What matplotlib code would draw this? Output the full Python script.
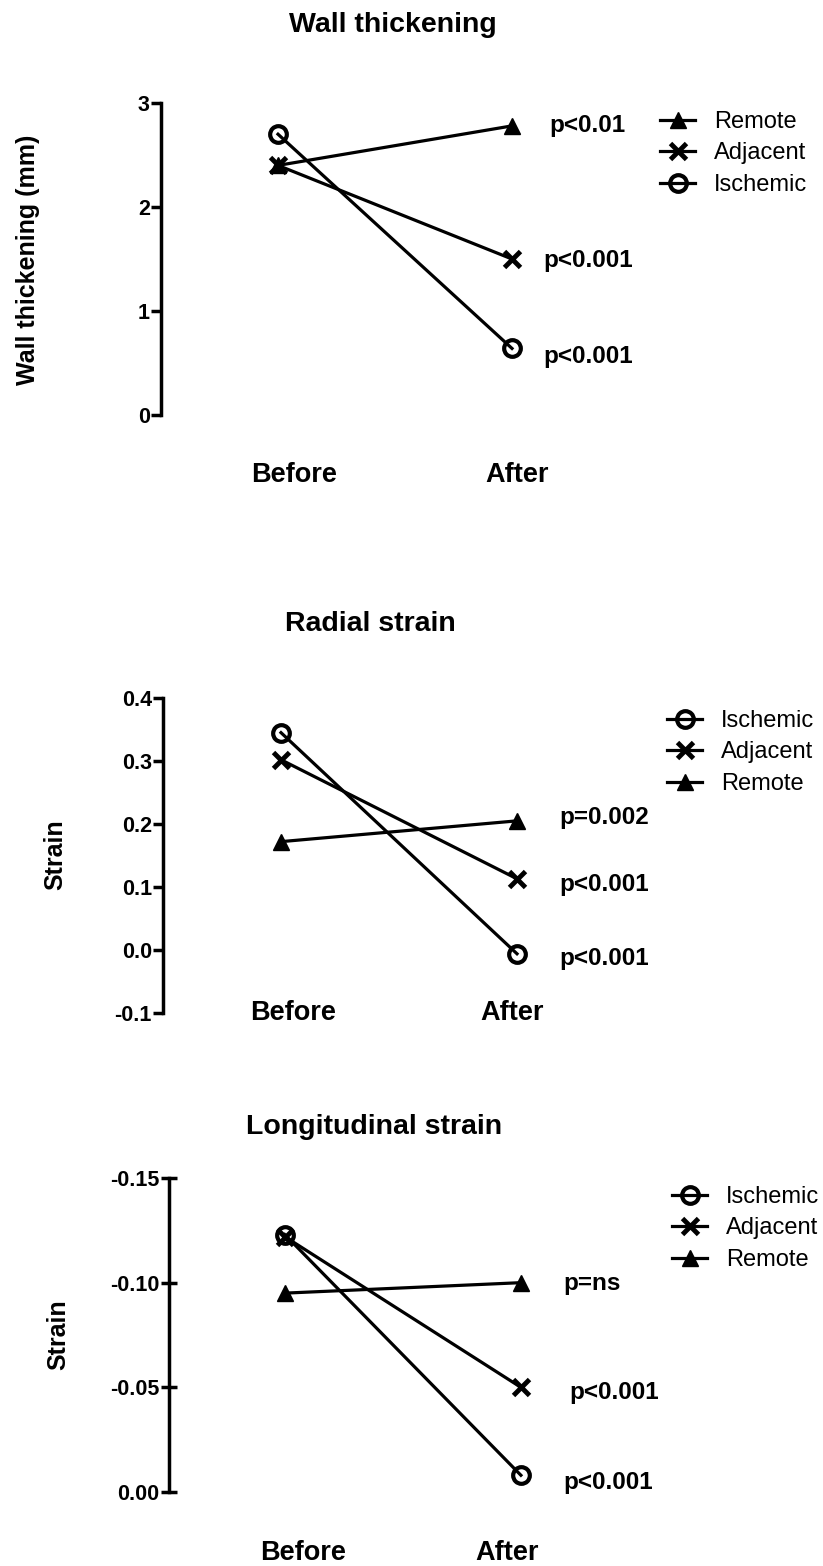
import numpy as np
import matplotlib
matplotlib.use('Agg')
import matplotlib.pyplot as plt

#############################################################################
'''Data read off the figure'''
#############################################################################

groups = ['Before', 'After']

# Wall thickening (mm)
wt_remote = [2.40, 2.78]
wt_adjacent = [2.40, 1.50]
wt_ischemic = [2.70, 0.64]
wt_p = {'Remote': 'p<0.01', 'Adjacent': 'p<0.001', 'Ischemic': 'p<0.001'}

# Radial strain
rs_ischemic = [0.345, -0.006]
rs_adjacent = [0.302, 0.113]
rs_remote = [0.172, 0.205]
rs_p = {'Ischemic': 'p<0.001', 'Adjacent': 'p<0.001', 'Remote': 'p=0.002'}

# Longitudinal strain
ls_ischemic = [-0.123, -0.008]
ls_adjacent = [-0.122, -0.050]
ls_remote = [-0.095, -0.100]
ls_p = {'Ischemic': 'p<0.001', 'Adjacent': 'p<0.001', 'Remote': 'p=ns'}

wt_ticks = [0, 1, 2, 3]
rs_ticks = [-0.1, 0.0, 0.1, 0.2, 0.3, 0.4]
ls_ticks = [0.00, -0.05, -0.10, -0.15]

#############################################################################
'''Styles'''
#############################################################################

W, H = 823, 1566
plt.rcParams['font.family'] = ['Liberation Sans', 'DejaVu Sans']
plt.rcParams['axes.unicode_minus'] = False

styles = {
    'Remote': dict(marker='^', ms=12, mfc='k', mec='k', mew=1),
    'Adjacent': dict(marker='x', ms=12, mec='k', mew=3.5),
    'Ischemic': dict(marker='o', ms=12, mfc='none', mec='k', mew=3),
}

fig = plt.figure(figsize=(W / 100, H / 100), dpi=100)


def px_axes(left, top, width, height):
    return fig.add_axes([left / W, 1 - (top + height) / H, width / W, height / H])


def setup(ax, ticks, fmt, xlim, ylim, tdir='out', tlen=7):
    ax.set_xlim(*xlim)
    ax.set_ylim(*ylim)
    for s in ['top', 'right', 'bottom']:
        ax.spines[s].set_visible(False)
    ax.spines['left'].set_linewidth(2.5)
    ax.set_xticks([])
    ax.set_yticks(ticks)
    ax.set_yticklabels([fmt.format(t) for t in ticks], fontsize=15.5,
                       fontweight='bold')
    ax.tick_params(axis='y', length=tlen, width=2.5, pad=1, direction=tdir)
    ax.patch.set_alpha(0)


def draw(ax, series, plabels, poffs):
    handles = {}
    for name, vals in series:
        h, = ax.plot([0, 1], vals, color='k', lw=2.3, clip_on=False,
                     **styles[name])
        handles[name] = h
        dx, dy = poffs[name]
        ax.annotate(plabels[name], xy=(1, vals[1]), xytext=(dx * 0.72, -dy * 0.72),
                    textcoords='offset points', ha='left', va='center',
                    fontsize=17.5, fontweight='bold', annotation_clip=False)
    return handles


def legend(ax, handles, order, x, y):
    ax.legend([handles[n] for n in order], order, loc='upper left',
              bbox_to_anchor=(x / W, 1 - y / H), bbox_transform=fig.transFigure,
              frameon=False, borderpad=0, borderaxespad=0, handlelength=1.5,
              handletextpad=0.8, labelspacing=0.4, fontsize=17)


def xlabels(ax, y, xs):
    for g, xv in zip(groups, xs):
        ax.text(xv, y, g, ha='center', va='center', fontsize=19.5,
                fontweight='bold', clip_on=False)


#############################################################################
'''Wall thickening'''
#############################################################################

ax1 = px_axes(161, 103, 468, 312)
setup(ax1, wt_ticks, '{:d}', (-0.5, 1.5), (0, 3))
h1 = draw(ax1, [('Remote', wt_remote), ('Adjacent', wt_adjacent),
                ('Ischemic', wt_ischemic)], wt_p,
          {'Remote': (37, 0), 'Adjacent': (31, 2), 'Ischemic': (31, 8)})
legend(ax1, h1, ['Remote', 'Adjacent', 'Ischemic'], 660, 111)
xlabels(ax1, -0.577, [0.07, 1.02])
fig.text(393 / W, 1 - 25 / H, 'Wall thickening', ha='center', va='center',
         fontsize=20.5, fontweight='bold')
fig.text(28 / W, 1 - 260 / H, 'Wall thickening (mm)', ha='center', va='center',
         rotation=90, fontsize=18, fontweight='bold')

#############################################################################
'''Radial strain'''
#############################################################################

ax2 = px_axes(163, 698, 472, 315)
setup(ax2, rs_ticks, '{:.1f}', (-0.5, 1.5), (-0.1, 0.4))
h2 = draw(ax2, [('Ischemic', rs_ischemic), ('Adjacent', rs_adjacent),
                ('Remote', rs_remote)], rs_p,
          {'Remote': (42, -3), 'Adjacent': (42, 6), 'Ischemic': (42, 5)})
legend(ax2, h2, ['Ischemic', 'Adjacent', 'Remote'], 667, 710)
xlabels(ax2, -0.1, [0.05, 0.98])
fig.text(370 / W, 1 - 624 / H, 'Radial strain', ha='center', va='center',
         fontsize=20.5, fontweight='bold')
fig.text(55 / W, 1 - 855 / H, 'Strain', ha='center', va='center',
         rotation=90, fontsize=18, fontweight='bold')

#############################################################################
'''Longitudinal strain'''
#############################################################################

ax3 = px_axes(169, 1178, 470, 314)
setup(ax3, ls_ticks, '{:.2f}', (-0.49, 1.5), (0, -0.15), tdir='inout', tlen=12)
h3 = draw(ax3, [('Ischemic', ls_ischemic), ('Adjacent', ls_adjacent),
                ('Remote', ls_remote)], ls_p,
          {'Remote': (42, 1), 'Adjacent': (48, 5), 'Ischemic': (42, 7)})
legend(ax3, h3, ['Ischemic', 'Adjacent', 'Remote'], 672, 1186)
xlabels(ax3, 0.029, [0.076, 0.94])
fig.text(374 / W, 1 - 1127 / H, 'Longitudinal strain', ha='center', va='center',
         fontsize=20.5, fontweight='bold')
fig.text(58 / W, 1 - 1335 / H, 'Strain', ha='center', va='center',
         rotation=90, fontsize=18, fontweight='bold')

fig.savefig('out.png', dpi=100, facecolor='white')
